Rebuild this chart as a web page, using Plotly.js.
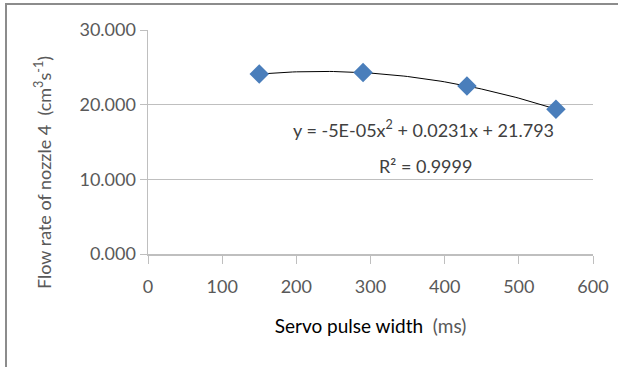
<!DOCTYPE html>
<html>
<head>
<meta charset="utf-8">
<script src="https://cdn.plot.ly/plotly-3.0.1.min.js"></script>
<style>
  html, body { margin: 0; padding: 0; background: #fff; }
  #wrap { position: relative; width: 618px; height: 367px; }
  #chart { position: absolute; left: 0; top: 0; width: 618px; height: 367px; }
  #frame { position: absolute; left: 5px; top: 3px; width: 613px; height: 363px;
           border-top: 2px solid #8c8c8c; border-left: 2px solid #8c8c8c; pointer-events: none; }
</style>
</head>
<body>
<div id="wrap">
  <div id="chart"></div>
  <div id="frame"></div>
</div>
<script>
const pulseWidth = [150, 290, 430, 550];
const flowRate = [24.1, 24.3, 22.5, 19.4];
const yTickVals = [0, 10, 20, 30];
const yTickText = ["0.000", "10.000", "20.000", "30.000"];
const xTickVals = [0, 100, 200, 300, 400, 500, 600];
const equationText = "y = -5E-05x<sup>2</sup> + 0.0231x + 21.793";
const r2Text = "R² = 0.9999";
const xTitle = "Servo pulse width  <span style='color:#595959'>(ms)</span>";
const yTitle = "Flow rate of nozzle 4  (cm<sup>3</sup>s<sup>-1</sup>)";

// Least-squares quadratic fit of the data (trendline)
function quadFit(xs, ys) {
  const S = [0,0,0,0,0], T = [0,0,0];
  for (let i = 0; i < xs.length; i++) {
    let p = 1;
    for (let k = 0; k < 5; k++) { S[k] += p; if (k < 3) T[k] += p * ys[i]; p *= xs[i]; }
  }
  const A = [[S[0],S[1],S[2],T[0]],[S[1],S[2],S[3],T[1]],[S[2],S[3],S[4],T[2]]];
  for (let c = 0; c < 3; c++) {
    for (let r = c + 1; r < 3; r++) {
      const f = A[r][c] / A[c][c];
      for (let k = c; k < 4; k++) A[r][k] -= f * A[c][k];
    }
  }
  const b = [0,0,0];
  for (let r = 2; r >= 0; r--) {
    let s = A[r][3];
    for (let k = r + 1; k < 3; k++) s -= A[r][k] * b[k];
    b[r] = s / A[r][r];
  }
  return b;
}
const coef = quadFit(pulseWidth, flowRate);
const fitX = [], fitY = [];
const xmin = Math.min(...pulseWidth), xmax = Math.max(...pulseWidth);
for (let i = 0; i <= 80; i++) {
  const x = xmin + (xmax - xmin) * i / 80;
  fitX.push(x);
  fitY.push(coef[0] + coef[1] * x + coef[2] * x * x);
}

const font = "Lato, 'Open Sans', sans-serif";

const traces = [
  { x: fitX, y: fitY, mode: "lines", type: "scatter",
    line: { color: "#000000", width: 1 }, hoverinfo: "skip", showlegend: false },
  { x: pulseWidth, y: flowRate, mode: "markers", type: "scatter",
    marker: { symbol: "diamond", size: 15, color: "#4a7ebb" }, showlegend: false }
];

const layout = {
  width: 618, height: 367,
  margin: { l: 148, r: 25, t: 30, b: 113 },
  paper_bgcolor: "rgba(0,0,0,0)", plot_bgcolor: "#ffffff",
  showlegend: false,
  font: { family: font, size: 18, color: "#595959" },
  xaxis: {
    range: [0, 600], tickvals: xTickVals, ticks: "outside", ticklen: 8, tickcolor: "#bfbfbf",
    tickwidth: 1, showline: true, linecolor: "#bfbfbf", linewidth: 1.5, showgrid: false,
    zeroline: false, ticklabelstandoff: 8,
    tickfont: { family: font, size: 18, color: "#595959" },
    title: { text: xTitle, font: { family: font, size: 19, color: "#000000" }, standoff: 23 }
  },
  yaxis: {
    range: [0, 30], tickvals: yTickVals, ticktext: yTickText, ticks: "outside", ticklen: 7,
    tickcolor: "#bfbfbf", tickwidth: 1, showline: true, linecolor: "#bfbfbf", linewidth: 1.5,
    showgrid: true, gridcolor: "#bfbfbf", gridwidth: 1, zeroline: false,
    tickfont: { family: font, size: 18, color: "#595959" }
  },
  annotations: [
    { x: -0.236, y: 0.366, xref: "paper", yref: "paper", text: yTitle, textangle: -90,
      showarrow: false, xanchor: "center", yanchor: "middle",
      font: { family: font, size: 18, color: "#595959" } },
    { x: 372, y: 16.7, xref: "x", yref: "y", text: equationText, showarrow: false,
      font: { family: font, size: 18, color: "#404040" } },
    { x: 374, y: 11.8, xref: "x", yref: "y", text: r2Text, showarrow: false,
      font: { family: font, size: 18, color: "#404040" } }
  ]
};

Plotly.newPlot("chart", traces, layout, { staticPlot: true, displayModeBar: false });
</script>
</body>
</html>
